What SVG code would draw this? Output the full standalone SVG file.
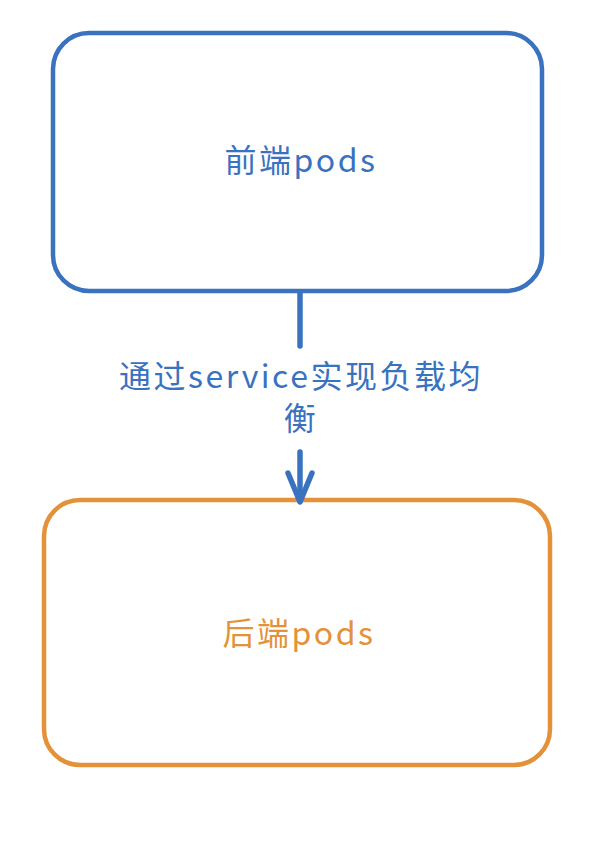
<svg xmlns="http://www.w3.org/2000/svg" width="616" height="841" viewBox="0 0 616 841">
  <style>
    .box { fill: #ffffff; stroke-width: 4.5; }
    .blue { stroke: #3a72bf; }
    .orange { stroke: #e3923a; }
    .lbl { font-family: "Noto Sans CJK SC", "Noto Sans", sans-serif; font-size: 32px; letter-spacing: 2.5px; text-anchor: middle; }
    .conn { stroke: #3a72bf; stroke-width: 5.5; fill: none; stroke-linecap: round; stroke-linejoin: round; }
  </style>
  <rect width="616" height="841" fill="#ffffff"/>
  <g id="frontend">
    <rect class="box blue" x="53" y="33" width="489" height="258" rx="36" ry="36"/>
    <text class="lbl" x="301" y="172" fill="#3a72bf">前端pods</text>
  </g>
  <g id="backend">
    <rect class="box orange" x="44" y="500" width="506" height="265" rx="36" ry="36"/>
    <text class="lbl" x="299" y="645" fill="#e3923a">后端pods</text>
  </g>
  <g id="connectors">
    <line class="conn" x1="300" y1="292" x2="300" y2="346" stroke-linecap="butt"/>
    <line class="conn" x1="300" y1="452" x2="300" y2="501"/>
    <polyline class="conn" points="288,473 300,502 312,473"/>
    <text class="lbl" x="301" y="388" fill="#3a72bf">通过service实现负载均</text>
    <text class="lbl" x="301" y="430" fill="#3a72bf">衡</text>
  </g>
</svg>
